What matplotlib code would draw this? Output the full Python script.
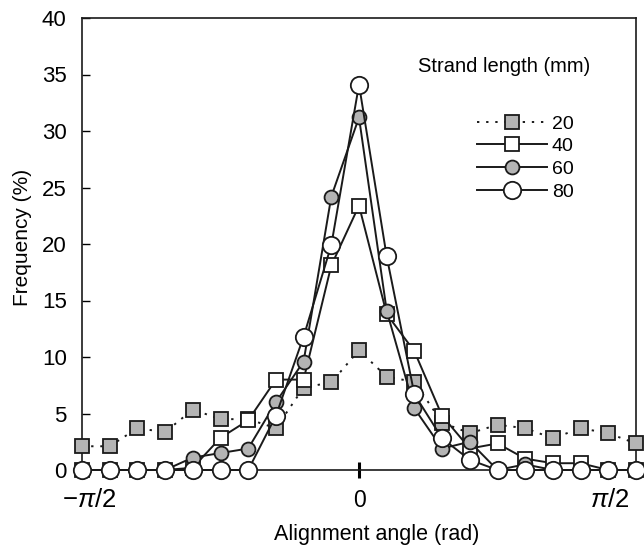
import numpy as np
import matplotlib
matplotlib.use("Agg")
import matplotlib.pyplot as plt
from matplotlib.transforms import ScaledTranslation

plt.rcParams['font.family'] = ['Liberation Sans', 'DejaVu Sans']
plt.rcParams['mathtext.fontset'] = 'custom'
plt.rcParams['mathtext.rm'] = 'Liberation Sans'
plt.rcParams['mathtext.it'] = 'Liberation Sans:italic'

# angle bins: -10..10 steps of pi/20
bin_index = list(range(-10, 11))
len20 = [2.1, 2.1, 3.7, 3.35, 5.35, 4.5, 4.5, 3.7, 7.3, 7.75, 10.6,
         8.25, 7.8, 4.2, 3.25, 4.0, 3.7, 2.8, 3.7, 3.25, 2.35]
len40 = [0, 0, 0, 0, 0.2, 2.85, 4.4, 8.0, 8.0, 18.1, 23.4,
         13.8, 10.5, 4.8, 1.9, 2.35, 1.0, 0.6, 0.6, 0, 0]
len60 = [0, 0, 0, 0, 1.1, 1.5, 1.9, 6.0, 9.6, 24.2, 31.2,
         14.1, 5.45, 1.9, 2.5, 0, 0.5, 0, 0, 0, 0]
len80 = [0, 0, 0, 0, 0, 0, 0, 4.8, 11.8, 19.9, 34.1,
         18.9, 6.7, 2.8, 0.9, 0, 0, 0, 0, 0, 0]
labels = ['20', '40', '60', '80']

angle = np.array(bin_index) * np.pi / 20

gray = '#b4b4b4'
ink = '#1a1a1a'

fig = plt.figure(figsize=(6.44, 5.52), dpi=100)
ax = fig.add_axes([82/644, 1 - 470/552, 554/644, 452/552])

common = dict(color=ink, lw=1.4, markeredgecolor=ink, markeredgewidth=1.3, clip_on=False)
ax.plot(angle, len20, ls=(0, (1.2, 3.5)), marker='s', ms=10, mfc=gray, label=labels[0], zorder=3, **common)
ax.plot(angle, len40, ls='-', marker='s', ms=10.5, mfc='white', label=labels[1], zorder=4, **common)
ax.plot(angle, len60, ls='-', marker='o', ms=10, mfc=gray, label=labels[2], zorder=5, **common)
ax.plot(angle, len80, ls='-', marker='o', ms=12.5, mfc='white', label=labels[3], zorder=6, **common)

ax.set_xlim(-np.pi/2, np.pi/2)
ax.set_ylim(0, 40)
ax.set_yticks(range(0, 41, 5))
ax.tick_params(axis='y', direction='in', length=6, width=1, pad=11, labelsize=16)

ax.set_xticks([0], labels=['0'])
ax.set_xticks([-np.pi/2, np.pi/2], labels=[r'$-\pi/2$', r'$\pi/2$'], minor=True)
ax.tick_params(axis='x', which='major', direction='inout', length=11, width=2.2, pad=8, labelsize=16.5)
ax.tick_params(axis='x', which='minor', length=0, pad=13, labelsize=18.5)
for lbl, dx in zip(ax.get_xticklabels(minor=True), [7, -26]):
    lbl.set_transform(lbl.get_transform() + ScaledTranslation(dx/100, 0, fig.dpi_scale_trans))

for s in ax.spines.values():
    s.set_linewidth(1.2)
    s.set_color(ink)

ax.set_xlabel('Alignment angle (rad)', fontsize=15.5)
ax.xaxis.set_label_coords(0.532, -0.119)
ax.set_ylabel('Frequency (%)', fontsize=15)
ax.yaxis.set_label_coords(-0.090, 0.515)

ax.text((418-82)/554, (470-67)/452, 'Strand length (mm)', fontsize=14.5,
        ha='left', va='center', transform=ax.transAxes)
ax.legend(loc='upper left', bbox_to_anchor=((477-82)/554, (470-115)/452),
          frameon=False, fontsize=14, handlelength=3.6, handletextpad=0.25,
          labelspacing=0.26, borderpad=0, borderaxespad=0)

fig.savefig('out.png', dpi=100)
